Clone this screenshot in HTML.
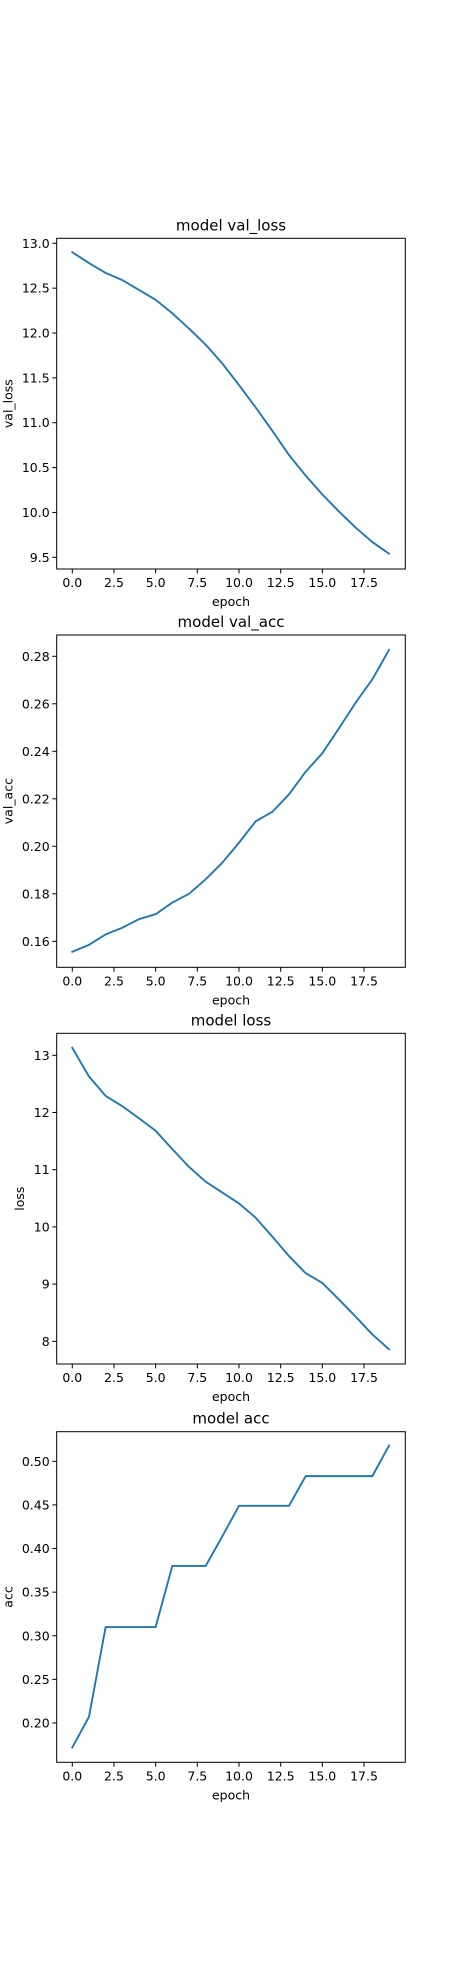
<!DOCTYPE html>
<html><head><meta charset="utf-8">
<style>
html,body{margin:0;padding:0;background:#fff;}
svg{display:block;font-family:"DejaVu Sans","Liberation Sans",sans-serif;}
</style></head>
<body>
<svg id="fig" width="450" height="1980" viewBox="0 0 450 1980" xmlns="http://www.w3.org/2000/svg"></svg>
<script>
const epochs = [0,1,2,3,4,5,6,7,8,9,10,11,12,13,14,15,16,17,18,19];
const xTicks = [0,2.5,5,7.5,10,12.5,15,17.5];
const xTickLabels = ["0.0","2.5","5.0","7.5","10.0","12.5","15.0","17.5"];

const valLoss = [12.90,12.78,12.67,12.59,12.48,12.37,12.22,12.05,11.87,11.66,11.42,11.17,10.91,10.64,10.41,10.20,10.01,9.83,9.67,9.54];
const valLossTicks = [9.5,10.0,10.5,11.0,11.5,12.0,12.5,13.0];
const valLossTickLabels = ["9.5","10.0","10.5","11.0","11.5","12.0","12.5","13.0"];

const valAcc = [0.1556,0.1585,0.1629,0.1657,0.1693,0.1714,0.1763,0.1800,0.1861,0.1931,0.2015,0.2105,0.2145,0.2219,0.2314,0.2392,0.2497,0.2605,0.2703,0.2827];
const valAccTicks = [0.16,0.18,0.20,0.22,0.24,0.26,0.28];
const valAccTickLabels = ["0.16","0.18","0.20","0.22","0.24","0.26","0.28"];

const loss = [13.13,12.63,12.29,12.11,11.90,11.68,11.36,11.05,10.79,10.60,10.41,10.16,9.83,9.49,9.19,9.02,8.73,8.43,8.12,7.86];
const lossTicks = [8,9,10,11,12,13];
const lossTickLabels = ["8","9","10","11","12","13"];

const acc = [0.172,0.207,0.310,0.310,0.310,0.310,0.380,0.380,0.380,0.414,0.449,0.449,0.449,0.449,0.483,0.483,0.483,0.483,0.483,0.518];
const accTicks = [0.20,0.25,0.30,0.35,0.40,0.45,0.50];
const accTickLabels = ["0.20","0.25","0.30","0.35","0.40","0.45","0.50"];

const NS="http://www.w3.org/2000/svg";
const svg=document.getElementById('fig');
function mk(tag,attrs,parent){const e=document.createElementNS(NS,tag);for(const k in attrs)e.setAttribute(k,attrs[k]);(parent||svg).appendChild(e);return e;}

// panel: top,bottom, y tick reference (v1 at p1, v2 at p2), ylabel x
function panel(key,title,ylabel,values,ticks,tickLabels,top,bottom,v1,p1,v2,p2,ylx){
  const g=mk('g',{});
  
  
  const left=56.7,right=405.3;
  const xs=v=>72.3+v*16.67;
  const ys=v=>p1+(v-v1)*(p2-p1)/(v2-v1);
  const t=mk('text',{x:(left+right)/2,y:top-8,'text-anchor':'middle','font-size':'15',fill:'#000'},g);
  t.textContent=title;
  
  
  const pts=values.map((v,i)=>xs(epochs[i]).toFixed(2)+','+ys(v).toFixed(2)).join(' ');
  const line=mk('polyline',{points:pts,fill:'none',stroke:'#1f77b4','stroke-width':'1.9','stroke-linejoin':'round','stroke-linecap':'square'},g);
  
  
  const frame=mk('rect',{x:left,y:top,width:right-left,height:bottom-top,fill:'none',stroke:'#000','stroke-width':'1'},g);
  
  
  xTicks.forEach((v,i)=>{
    const x=xs(v);
    mk('line',{x1:x,x2:x,y1:bottom,y2:bottom+4.4,stroke:'#000','stroke-width':'1'},g);
    const tl=mk('text',{x:x,y:bottom+18,'text-anchor':'middle','font-size':'12.5',fill:'#000'},g);
    tl.textContent=xTickLabels[i];
    
    
  });
  ticks.forEach((v,i)=>{
    const y=ys(v);
    mk('line',{x1:left-4.4,x2:left,y1:y,y2:y,stroke:'#000','stroke-width':'1'},g);
    const tl=mk('text',{x:left-7,y:y+4.5,'text-anchor':'end','font-size':'12.5',fill:'#000'},g);
    tl.textContent=tickLabels[i];
    
    
  });
  const xl=mk('text',{x:(left+right)/2,y:bottom+37,'text-anchor':'middle','font-size':'12.5',fill:'#000'},g);
  xl.textContent='epoch';
  
  
  const cy=(top+bottom)/2;
  const yl=mk('text',{x:ylx,y:cy,'text-anchor':'middle','font-size':'12.5',fill:'#000',transform:'rotate(-90 '+ylx+' '+cy+')'},g);
  yl.textContent=ylabel;
  
  
}
panel('val-loss','model val_loss','val_loss',valLoss,valLossTicks,valLossTickLabels,238.3,569,13.0,243.3,9.5,557.3,12.5);
panel('val-acc','model val_acc','val_acc',valAcc,valAccTicks,valAccTickLabels,635,967.3,0.28,656.3,0.16,941.3,12.5);
panel('loss','model loss','loss',loss,lossTicks,lossTickLabels,1033.3,1364,13,1055.3,8,1341.3,24);
panel('acc','model acc','acc',acc,accTicks,accTickLabels,1431.7,1762.3,0.50,1461.3,0.20,1723,12.5);
</script>
</body></html>
